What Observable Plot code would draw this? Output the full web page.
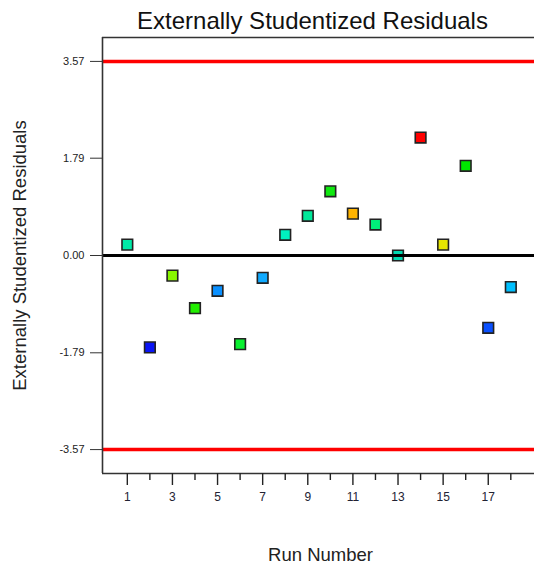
<!DOCTYPE html>
<html>
<head>
<meta charset="utf-8">
<script src="https://cdn.jsdelivr.net/npm/d3@7"></script>
<script src="https://cdn.jsdelivr.net/npm/@observablehq/plot@0.6"></script>
<style>
  html, body { margin: 0; padding: 0; background: #fff; }
  svg { display: block; font-family: "Liberation Sans", Arial, sans-serif; }
</style>
</head>
<body>
<div id="chart"></div>
<script>
// Run order and the externally studentized residual for each run
const runs = [1, 2, 3, 4, 5, 6, 7, 8, 9, 10, 11, 12, 13, 14, 15, 16, 17, 18];
const residuals = [0.20, -1.69, -0.37, -0.97, -0.65, -1.63, -0.41, 0.38, 0.73, 1.18,
                   0.77, 0.57, 0.00, 2.17, 0.20, 1.65, -1.33, -0.58];
// Point fill colours (design-space colouring)
const pointColors = ["#00eba8", "#0a14f5", "#88f500", "#22ee00", "#0a90ff", "#0af030",
                     "#10aaff", "#00f0c0", "#00e89a", "#10e810", "#ffb400", "#00f07a",
                     "#00d8b0", "#ff0000", "#e6e600", "#00e800", "#0a50ff", "#00c0ff"];
// Outlier limits and axis ticks
const limit = 3.57;
const yTicks = [3.57, 1.79, 0, -1.79, -3.57];
const xMajorTicks = [1, 3, 5, 7, 9, 11, 13, 15, 17];
const xMinorTicks = [2, 4, 6, 8, 10, 12, 14, 16, 18];

const points = runs.map((r, i) => ({run: r, res: residuals[i], color: pointColors[i]}));

const yMax = 4.01;

const chart = Plot.plot({
  width: 534,
  height: 568,
  marginLeft: 102,
  marginRight: 0,
  marginTop: 37,
  marginBottom: 95,
  style: {fontFamily: "Liberation Sans, Arial, sans-serif", background: "#fff"},
  x: {domain: [-0.1, 19.05]},
  y: {domain: [-yMax, yMax]},
  marks: [
    // control limits
    Plot.ruleY([limit, -limit], {stroke: "#ff0000", strokeWidth: 3.5}),
    // residual points
    Plot.dot(points, {
      x: "run", y: "res", symbol: "square", r: 6,
      fill: d => d.color, stroke: "#222", strokeWidth: 1.6
    }),
    // zero reference
    Plot.ruleY([0], {stroke: "#000", strokeWidth: 3}),
    // frame: left, top and bottom edges
    Plot.ruleX([-0.1], {stroke: "#333", strokeWidth: 1.6}),
    Plot.ruleY([yMax, -yMax], {stroke: "#333", strokeWidth: 1.6}),
    // axes
    Plot.axisY({
      ticks: yTicks, tickFormat: d => d.toFixed(2), tickSize: 12, tickPadding: 6,
      label: null, fontSize: 11, stroke: "#333", fill: "#222"
    }),
    Plot.axisX({
      ticks: xMajorTicks, tickFormat: d => String(d), tickSize: 12, tickPadding: 7,
      label: null, fontSize: 12, stroke: "#222", strokeWidth: 1.4, fill: "#223"
    }),
    Plot.axisX({
      ticks: xMinorTicks, tickFormat: () => "", tickSize: 7,
      label: null, stroke: "#222", strokeWidth: 1.4
    }),
    // titles
    Plot.text(["Externally Studentized Residuals"], {
      frameAnchor: "top", dx: -6, dy: -16, lineAnchor: "middle",
      fontSize: 24, fill: "#111"
    }),
    Plot.text(["Externally Studentized Residuals"], {
      frameAnchor: "left", dx: -82, rotate: -90, lineAnchor: "middle",
      textAnchor: "middle", fontSize: 18.5, fill: "#222"
    }),
    Plot.text(["Run Number"], {
      frameAnchor: "bottom", dx: 2, dy: 82, lineAnchor: "middle",
      fontSize: 18.5, fill: "#222"
    })
  ]
});

document.getElementById("chart").appendChild(chart);
</script>
</body>
</html>
